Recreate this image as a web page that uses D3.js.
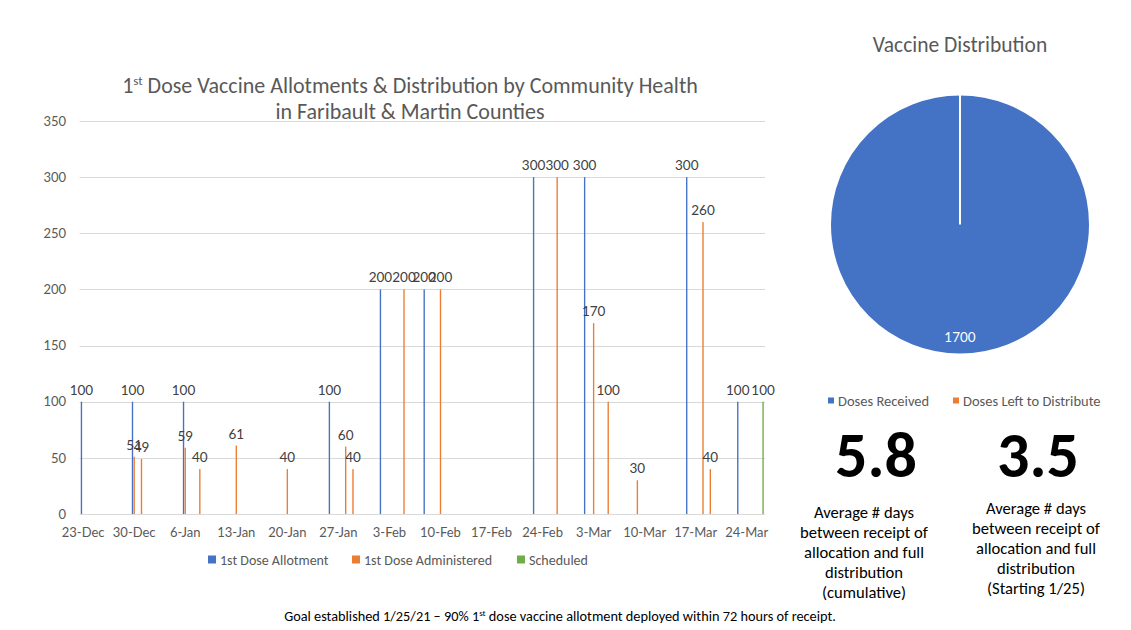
<!DOCTYPE html>
<html>
<head>
<meta charset="utf-8">
<script src="https://d3js.org/d3.v7.min.js"></script>
<style>
  body { margin: 0; background: #fff; }
  svg { font-family: Carlito, Calibri, Lato, sans-serif; }
</style>
</head>
<body>
<svg width="1131" height="630"></svg>
<script>
"use strict";

// bar chart data, one array per series (date string, doses)
const allotDates = ["2020-12-23", "2020-12-30", "2021-01-06", "2021-01-26", "2021-02-02", "2021-02-08",
    "2021-02-23", "2021-03-02", "2021-03-16", "2021-03-23"];
const allotValues = [100, 100, 100, 100, 200, 200, 300, 300, 300, 100];

const adminDates = ["2020-12-30", "2020-12-31", "2021-01-06", "2021-01-08", "2021-01-13", "2021-01-20",
    "2021-01-28", "2021-01-29", "2021-02-05", "2021-02-10", "2021-02-26", "2021-03-03",
    "2021-03-05", "2021-03-09", "2021-03-18", "2021-03-19"];
const adminValues = [51, 49, 59, 40, 61, 40, 60, 40, 200, 200, 300, 170, 100, 30, 260, 40];

const schedDates = ["2021-03-26"];
const schedValues = [100];

const seriesNames = ["1st Dose Allotment", "1st Dose Administered", "Scheduled"];
const seriesColors = ["#4472C4", "#ED7D31", "#70AD47"];

const firstDay = "2020-12-23";
const lastDay = "2021-03-26";
const yTicks = [0, 50, 100, 150, 200, 250, 300, 350];

// pie data
const pieLabels = ["Doses Received", "Doses Left to Distribute"];
const pieValues = [1700, 0];

// summary numbers
const avgValues = ["5.8", "3.5"];
const avgCaptions = [
    ["Average # days", "between receipt of", "allocation and full", "distribution", "(cumulative)"],
    ["Average # days", "between receipt of", "allocation and full", "distribution", "(Starting 1/25)"]
];

const parseDay = d3.timeParse("%Y-%m-%d");
const fmtDay = d3.timeFormat("%-d-%b");

const svg = d3.select("svg");
const textGrey = "#595959";

// ---------- bar chart ----------
const days = d3.timeDay.range(parseDay(firstDay), d3.timeDay.offset(parseDay(lastDay), 1));
const dayKeys = days.map(fmtDay);

const x = d3.scaleBand()
    .domain(dayKeys)
    .range([79.5, 765])
    .paddingInner(0.25)
    .paddingOuter(0.125);

const xSeries = d3.scaleBand()
    .domain([0, 1, 2])
    .range([0, x.bandwidth()])
    .padding(0.2);

const y = d3.scaleLinear()
    .domain([0, 350])
    .range([514, 121]);

// gridlines
svg.append("g")
    .selectAll("line")
    .data(yTicks)
    .join("line")
    .attr("x1", 79.5)
    .attr("x2", 765)
    .attr("y1", d => Math.round(y(d)) + 0.5)
    .attr("y2", d => Math.round(y(d)) + 0.5)
    .attr("stroke", "#d9d9d9")
    .attr("stroke-width", 1);

// y axis labels
const yAxis = svg.append("g")
    .attr("transform", "translate(66,0)")
    .call(d3.axisLeft(y).tickValues(yTicks).tickSize(0).tickPadding(0));
yAxis.select(".domain").remove();
yAxis.selectAll("text")
    .attr("font-family", "Lato, sans-serif")
    .attr("font-size", 13)
    .attr("fill", textGrey);

// x axis labels, one every 7 days
const weekKeys = dayKeys.filter((d, i) => i % 7 === 0);
const xAxis = svg.append("g")
    .attr("transform", "translate(0,514)")
    .call(d3.axisBottom(x).tickValues(weekKeys).tickSize(0).tickPadding(14));
xAxis.select(".domain").remove();
xAxis.selectAll("text")
    .attr("font-family", "Lato, sans-serif")
    .attr("font-size", 13)
    .attr("fill", textGrey);

const series = [
    { dates: allotDates, values: allotValues },
    { dates: adminDates, values: adminValues },
    { dates: schedDates, values: schedValues }
];

series.forEach((s, si) => {
    const pts = s.dates.map((d, i) => ({ key: fmtDay(parseDay(d)), v: s.values[i] }));
    const g = svg.append("g");
    g.selectAll("rect")
        .data(pts)
        .join("rect")
        .attr("x", d => x(d.key) + xSeries(si))
        .attr("y", d => y(d.v))
        .attr("width", xSeries.bandwidth())
        .attr("height", d => y(0) - y(d.v))
        .attr("fill", seriesColors[si]);
    g.selectAll("text")
        .data(pts)
        .join("text")
        .attr("x", d => x(d.key) + xSeries(si) + xSeries.bandwidth() / 2)
        .attr("y", d => y(d.v) - 7)
        .attr("text-anchor", "middle")
        .attr("font-family", "Lato, sans-serif")
        .attr("font-size", 13.5)
        .attr("fill", "#404040")
        .text(d => d.v);
});

// title
const title = svg.append("text")
    .attr("text-anchor", "middle")
    .attr("font-size", 22)
    .attr("fill", textGrey);
const t1 = title.append("tspan").attr("x", 410).attr("y", 93);
t1.append("tspan").text("1");
t1.append("tspan").attr("font-size", 13).attr("dy", -8).text("st");
t1.append("tspan").attr("dy", 8).text(" Dose Vaccine Allotments & Distribution by Community Health");
title.append("tspan").attr("x", 410).attr("y", 119).text("in Faribault & Martin Counties");

// legend
const legendX = [208, 352, 517];
const legend = svg.append("g")
    .selectAll("g")
    .data(seriesNames)
    .join("g")
    .attr("transform", (d, i) => `translate(${legendX[i]},560)`);
legend.append("rect")
    .attr("x", 0).attr("y", -4.5)
    .attr("width", 8).attr("height", 8)
    .attr("fill", (d, i) => seriesColors[i]);
legend.append("text")
    .attr("x", 12)
    .attr("dy", "0.35em")
    .attr("font-size", 14)
    .attr("fill", textGrey)
    .text(d => d);

// ---------- pie ----------
const pieG = svg.append("g").attr("transform", "translate(960,224.5)");
const arcs = d3.pie().sort(null)(pieValues);
const arc = d3.arc().innerRadius(0).outerRadius(130);
pieG.selectAll("path")
    .data(arcs)
    .join("path")
    .attr("d", arc)
    .attr("fill", (d, i) => seriesColors[i])
    .attr("stroke", "#fff")
    .attr("stroke-width", 2);
pieG.selectAll("text")
    .data(arcs.filter(d => d.value > 0))
    .join("text")
    .attr("x", 0)
    .attr("y", 117)
    .attr("text-anchor", "middle")
    .attr("font-family", "Lato, sans-serif")
    .attr("font-size", 13.5)
    .attr("fill", "#fff")
    .text(d => d.value);

svg.append("text")
    .attr("x", 960)
    .attr("y", 52)
    .attr("text-anchor", "middle")
    .attr("font-size", 21.5)
    .attr("fill", textGrey)
    .text("Vaccine Distribution");

const pieLegendX = [828, 953];
const pieLegend = svg.append("g")
    .selectAll("g")
    .data(pieLabels)
    .join("g")
    .attr("transform", (d, i) => `translate(${pieLegendX[i]},401)`);
pieLegend.append("rect")
    .attr("x", 0).attr("y", -3.5)
    .attr("width", 6).attr("height", 6)
    .attr("fill", (d, i) => seriesColors[i]);
pieLegend.append("text")
    .attr("x", 10)
    .attr("dy", "0.35em")
    .attr("font-size", 14.5)
    .attr("fill", textGrey)
    .text(d => d);

// ---------- summary numbers ----------
const numX = [876, 1038];
const capX = [864, 1036];
const capY = [518, 514];
avgValues.forEach((v, i) => {
    svg.append("text")
        .attr("x", numX[i])
        .attr("y", 477)
        .attr("text-anchor", "middle")
        .attr("font-size", 64)
        .attr("font-weight", "bold")
        .attr("fill", "#000")
        .text(v);
    svg.append("text")
        .attr("text-anchor", "middle")
        .attr("font-size", 16.6)
        .attr("fill", "#000")
        .selectAll("tspan")
        .data(avgCaptions[i])
        .join("tspan")
        .attr("x", capX[i])
        .attr("y", (d, j) => capY[i] + j * 20)
        .text(d => d);
});

// footer
const foot = svg.append("text")
    .attr("x", 560)
    .attr("y", 621)
    .attr("text-anchor", "middle")
    .attr("font-size", 14.3)
    .attr("fill", "#000");
foot.append("tspan").text("Goal established 1/25/21 – 90% 1");
foot.append("tspan").attr("font-size", 9).attr("dy", -5).text("st");
foot.append("tspan").attr("dy", 5).text(" dose vaccine allotment deployed within 72 hours of receipt.");
</script>
</body>
</html>
